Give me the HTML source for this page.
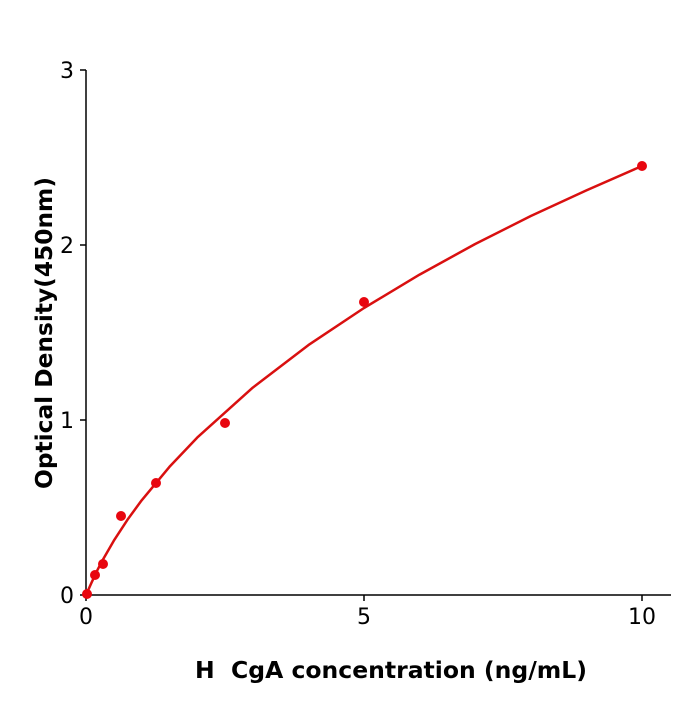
<!DOCTYPE html><html><head><style>body{margin:0;background:#fff}</style></head><body>
<svg width="700" height="700" xmlns="http://www.w3.org/2000/svg" font-family="DejaVu Sans, Liberation Sans, sans-serif">
<rect width="700" height="700" fill="#fff"/>
<g stroke="#000" stroke-width="1.5" fill="none">
<path d="M86,70V595H671"/>
<path d="M80,70H86M80,245H86M80,420H86M80,595H86M86,595V601M364,595V601M642,595V601"/>
</g>
<g font-size="22" fill="#000">
<text x="74" y="78" text-anchor="end">3</text>
<text x="74" y="253" text-anchor="end">2</text>
<text x="74" y="428" text-anchor="end">1</text>
<text x="74" y="603" text-anchor="end">0</text>
<text x="86" y="624" text-anchor="middle">0</text>
<text x="364" y="624" text-anchor="middle">5</text>
<text x="642" y="624" text-anchor="middle">10</text>
</g>
<text x="391" y="678" font-size="23.5" font-weight="bold" text-anchor="middle">H&#160; CgA concentration (ng/mL)</text>
<text transform="translate(52,333) rotate(-90)" font-size="23.3" font-weight="bold" text-anchor="middle">Optical Density(450nm)</text>
<polyline fill="none" stroke="#d91010" stroke-width="2.5" stroke-linejoin="round" points="86,595 87.1,592.7 88.8,588.8 91.6,582.5 97.1,570.7 102.7,560 113.8,540.7 127.7,519.4 141.6,500.4 169.4,466.9 197.2,437.6 252.8,387.6 308.4,345.1 364,308 419.6,274.6 475.2,244 530.8,216 586.4,190.4 642,166"/>
<g fill="#e8060f">
<circle cx="87" cy="594" r="5"/><circle cx="95" cy="575" r="5"/><circle cx="103" cy="564" r="5"/><circle cx="121" cy="516" r="5"/><circle cx="156" cy="483" r="5"/><circle cx="225" cy="423" r="5"/><circle cx="364" cy="302" r="5"/><circle cx="642" cy="166" r="5"/>
</g>
</svg>
</body></html>
